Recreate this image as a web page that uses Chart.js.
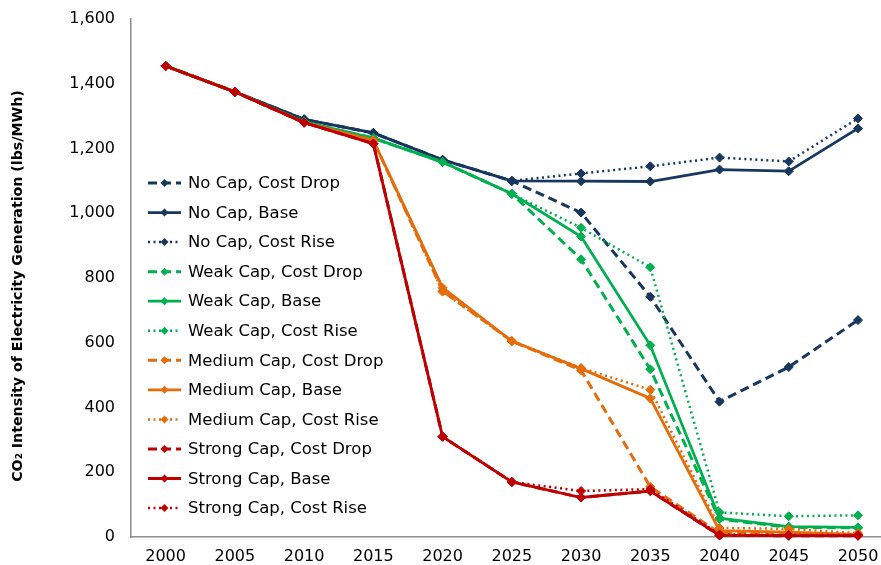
<!DOCTYPE html>
<html>
<head>
<meta charset="utf-8">
<script src="https://cdn.jsdelivr.net/npm/chart.js@4/dist/chart.umd.min.js"></script>
<style>
  html, body { margin: 0; padding: 0; background: #fff; }
  #wrap { width: 881px; height: 565px; }
</style>
</head>
<body>
<div id="wrap"><canvas id="chart"></canvas></div>
<script>
// --- data ---
const years = [2000, 2005, 2010, 2015, 2020, 2025, 2030, 2035, 2040, 2045, 2050];
const yTicks = [0, 200, 400, 600, 800, 1000, 1200, 1400, 1600];

const noCapDrop  = [1455, 1375, 1290, 1248, 1165, 1100, 1002, 742, 418, 525, 670];
const noCapBase  = [1455, 1375, 1290, 1248, 1165, 1100, 1099, 1098, 1135, 1130, 1262];
const noCapRise  = [1455, 1375, 1290, 1248, 1165, 1100, 1123, 1145, 1172, 1160, 1293];
const weakDrop   = [1455, 1375, 1282, 1232, 1158, 1060, 858, 518, 55, 30, 28];
const weakBase   = [1455, 1375, 1282, 1232, 1158, 1060, 928, 592, 58, 32, 30];
const weakRise   = [1455, 1375, 1282, 1232, 1158, 1060, 955, 833, 76, 64, 67];
const mediumDrop = [1455, 1375, 1280, 1225, 760, 605, 515, 155, 12, 10, 6];
const mediumBase = [1455, 1375, 1280, 1225, 770, 605, 520, 428, 20, 15, 8];
const mediumRise = [1455, 1375, 1280, 1225, 758, 605, 522, 455, 28, 25, 12];
const strongDrop = [1455, 1375, 1280, 1215, 310, 170, 122, 142, 5, 4, 4];
const strongBase = [1455, 1375, 1280, 1215, 310, 170, 122, 142, 5, 4, 4];
const strongRise = [1455, 1375, 1280, 1215, 310, 170, 142, 148, 8, 6, 6];

const seriesLabels = [
  'No Cap, Cost Drop', 'No Cap, Base', 'No Cap, Cost Rise',
  'Weak Cap, Cost Drop', 'Weak Cap, Base', 'Weak Cap, Cost Rise',
  'Medium Cap, Cost Drop', 'Medium Cap, Base', 'Medium Cap, Cost Rise',
  'Strong Cap, Cost Drop', 'Strong Cap, Base', 'Strong Cap, Cost Rise'
];
const seriesValues = [
  noCapDrop, noCapBase, noCapRise,
  weakDrop, weakBase, weakRise,
  mediumDrop, mediumBase, mediumRise,
  strongDrop, strongBase, strongRise
];
const yTitle = 'CO\u2082 Intensity of Electricity Generation (lbs/MWh)';

// --- styling ---
const capColors = ['#17375E', '#00B050', '#E46C0A', '#C00000'];
const styles = {
  drop: { dash: [9, 5], width: 3 },
  base: { dash: [], width: 2.8 },
  rise: { dash: [2, 3.5], width: 2.5 }
};
const styleKeys = ['drop', 'base', 'rise'];
const FONT = "'DejaVu Sans', sans-serif";

const datasets = seriesValues.map((vals, i) => {
  const color = capColors[Math.floor(i / 3)];
  const st = styles[styleKeys[i % 3]];
  return {
    label: seriesLabels[i],
    data: years.map((yr, k) => ({ x: yr, y: vals[k] })),
    borderColor: color,
    backgroundColor: color,
    borderWidth: st.width,
    borderDash: st.dash,
    pointStyle: 'rectRot',
    pointRadius: 4.5,
    pointBorderWidth: 1,
    pointBorderColor: color,
    pointBackgroundColor: color,
    tension: 0,
    fill: false,
    clip: 8,
    order: 12 - i
  };
});

// legend drawn inside the plot + y title placed like the original
const insideLegend = {
  id: 'insideLegend',
  afterDraw(chart) {
    const ctx = chart.ctx;
    const x0 = 148, x1 = 181, tx = 188, y0 = 183, step = 29.55;
    ctx.save();
    chart.data.datasets.forEach((ds, i) => {
      const y = y0 + i * step;
      ctx.strokeStyle = ds.borderColor;
      ctx.lineWidth = ds.borderWidth;
      ctx.setLineDash(ds.borderDash);
      ctx.beginPath();
      ctx.moveTo(x0, y);
      ctx.lineTo(x1, y);
      ctx.stroke();
      ctx.setLineDash([]);
      const cx = (x0 + x1) / 2, r = 4;
      ctx.fillStyle = ds.borderColor;
      ctx.beginPath();
      ctx.moveTo(cx, y - r);
      ctx.lineTo(cx + r, y);
      ctx.lineTo(cx, y + r);
      ctx.lineTo(cx - r, y);
      ctx.closePath();
      ctx.fill();
      ctx.fillStyle = '#000';
      ctx.font = '16.5px ' + FONT;
      ctx.textAlign = 'left';
      ctx.textBaseline = 'middle';
      ctx.fillText(ds.label, tx, y + 1);
    });

    // rotated axis title
    ctx.translate(18, 286);
    ctx.rotate(-Math.PI / 2);
    ctx.fillStyle = '#000';
    ctx.font = 'bold 14.2px ' + FONT;
    ctx.textAlign = 'center';
    ctx.textBaseline = 'middle';
    ctx.fillText(yTitle, 0, 0);
    ctx.restore();
  }
};

new Chart(document.getElementById('chart'), {
  type: 'line',
  data: { datasets },
  plugins: [insideLegend],
  options: {
    responsive: true,
    maintainAspectRatio: false,
    animation: false,
    layout: { autoPadding: false, padding: { top: 19, right: 0, left: 0, bottom: 0 } },
    plugins: {
      legend: { display: false },
      tooltip: { enabled: false }
    },
    scales: {
      x: {
        type: 'linear',
        min: 1997.5,
        max: 2051.66,
        afterBuildTicks: (axis) => { axis.ticks = years.map(v => ({ value: v })); },
        afterFit: (axis) => { axis.height = 28; axis.paddingLeft = 0; axis.paddingRight = 0; },
        grid: { display: false, drawTicks: false },
        border: { display: true, color: '#8c8c8c', width: 1.5 },
        ticks: {
          padding: 10,
          color: '#000',
          font: { family: FONT, size: 16 },
          maxRotation: 0,
          autoSkip: false,
          callback: (v) => String(v)
        }
      },
      y: {
        min: 0,
        max: 1600,
        afterBuildTicks: (axis) => { axis.ticks = yTicks.map(v => ({ value: v })); },
        afterFit: (axis) => { axis.width = 131; axis.paddingTop = 0; axis.paddingBottom = 0; },
        grid: { display: false, drawTicks: false },
        border: { display: true, color: '#8c8c8c', width: 1.5 },
        ticks: {
          padding: 16,
          color: '#000',
          font: { family: FONT, size: 16 },
          callback: (v) => v.toLocaleString('en-US')
        }
      }
    }
  }
});
</script>
</body>
</html>
